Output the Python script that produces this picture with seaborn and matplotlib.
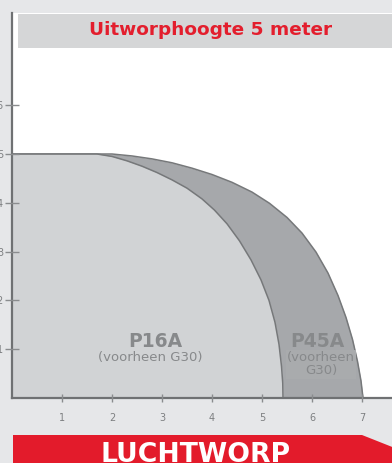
import matplotlib
matplotlib.use('agg')
from matplotlib import pyplot as plt
from matplotlib.patches import Rectangle, Polygon
import numpy as np
import pandas as pd
import seaborn as sns

# throw distance (m) vs height (m)
p45_x = [0, 2.0, 2.4, 2.8, 3.2, 3.6, 4.0, 4.4, 4.8, 5.15, 5.5, 5.8, 6.08, 6.32, 6.52, 6.68, 6.81, 6.91, 6.98, 7.02]
p45_y = [5.0, 5.0, 4.96, 4.9, 4.82, 4.71, 4.58, 4.42, 4.22, 3.99, 3.7, 3.38, 2.99, 2.56, 2.1, 1.65, 1.2, 0.75, 0.35, 0.0]
p16_x = [0, 1.7, 2.0, 2.3, 2.6, 2.9, 3.2, 3.5, 3.8, 4.05, 4.3, 4.55, 4.78, 4.98, 5.14, 5.26, 5.34, 5.39, 5.415, 5.42]
p16_y = [5.0, 5.0, 4.95, 4.86, 4.75, 4.62, 4.47, 4.3, 4.08, 3.85, 3.57, 3.22, 2.83, 2.42, 2.0, 1.55, 1.1, 0.65, 0.3, 0.0]

x_ticks = [1, 2, 3, 4, 5, 6, 7]
y_ticks = [1, 2, 3, 4, 5, 6]
title = 'Uitworphoogte 5 meter'
banner = 'LUCHTWORP'

bg = '#e6e7e9'
axis_col = '#6f7173'
label_col = '#7d7f81'
text_col = '#87898b'

sns.set_style('white')
plt.rcParams['font.family'] = ['DejaVu Sans']

W, H = 392, 463
fig = plt.figure(figsize=(W/100, H/100), dpi=100, facecolor=bg)
ax = fig.add_axes([12/W, (H-398)/H, (W-12)/W, (398-13)/H])
ax.set_facecolor('white')

df45 = pd.DataFrame({'x': p45_x, 'y': p45_y})
df16 = pd.DataFrame({'x': p16_x, 'y': p16_y})

ax.fill_between(df45['x'], df45['y'], 0, color='#a6a8ab', lw=0, zorder=1)
sns.lineplot(data=df45, x='x', y='y', ax=ax, color='#76787a', lw=1.1, zorder=2)
ax.fill_between(df16['x'], df16['y'], 0, color='#d1d3d5', lw=0, zorder=3)
sns.lineplot(data=df16, x='x', y='y', ax=ax, color='#76787a', lw=1.1, zorder=4)

ax.set_xlim(0, (W-12)/50)
ax.set_ylim(0, (398-13)/48.8)
ax.set_xticks(x_ticks)
ax.set_yticks(y_ticks)
ax.set_xlabel('')
ax.set_ylabel('')
ax.tick_params(bottom=True, left=True, direction='inout', width=1, color='#8a8c8e',
               labelsize=7, labelcolor=label_col)
ax.tick_params(axis='x', length=6, pad=8)
ax.tick_params(axis='y', length=10, pad=1.5)
ax.xaxis.set_zorder(8)
ax.yaxis.set_zorder(8)
for s in ['top', 'right']:
    ax.spines[s].set_visible(False)
for s in ['left', 'bottom']:
    ax.spines[s].set_color(axis_col)
    ax.spines[s].set_linewidth(1.6)
    ax.spines[s].set_zorder(6)

# grey title band
ax.add_patch(Rectangle((6/380, (398-48)/385), 1, (48-14)/385, transform=ax.transAxes,
                       facecolor='#d5d6d7', edgecolor='none', zorder=5, clip_on=False))
ax.text(0.523, (398-30)/385, title, transform=ax.transAxes, ha='center', va='center',
        color='#e31e2d', fontsize=13.3, fontweight='bold', zorder=7)

ax.text(2.86, 1.15, 'P16A', ha='center', va='center', color=text_col,
        fontsize=13.5, fontweight='bold', zorder=7)
ax.text(2.76, 0.84, '(voorheen G30)', ha='center', va='center', color=text_col,
        fontsize=9.5, zorder=7)
ax.text(6.1, 1.15, 'P45A', ha='center', va='center', color=text_col,
        fontsize=13.5, fontweight='bold', zorder=7)
ax.text(6.18, 0.69, '(voorheen\nG30)', ha='center', va='center', color=text_col,
        fontsize=9.5, linespacing=1.0, zorder=7,
        bbox=dict(facecolor='#a9abad', edgecolor='none', pad=1))

# red arrow banner at the bottom
pts = [(13, 435), (362, 435), (420, 458), (362, 481), (13, 481)]
fig.patches.append(Polygon([(px/W, 1 - py/H) for px, py in pts], closed=True,
                           transform=fig.transFigure, facecolor='#e31b2b',
                           edgecolor='none'))
fig.text(196/W, 1 - 455/H, banner, ha='center', va='center', color='white',
         fontsize=19.2, fontweight='bold')

fig.savefig('out.png', dpi=100, facecolor=bg)
